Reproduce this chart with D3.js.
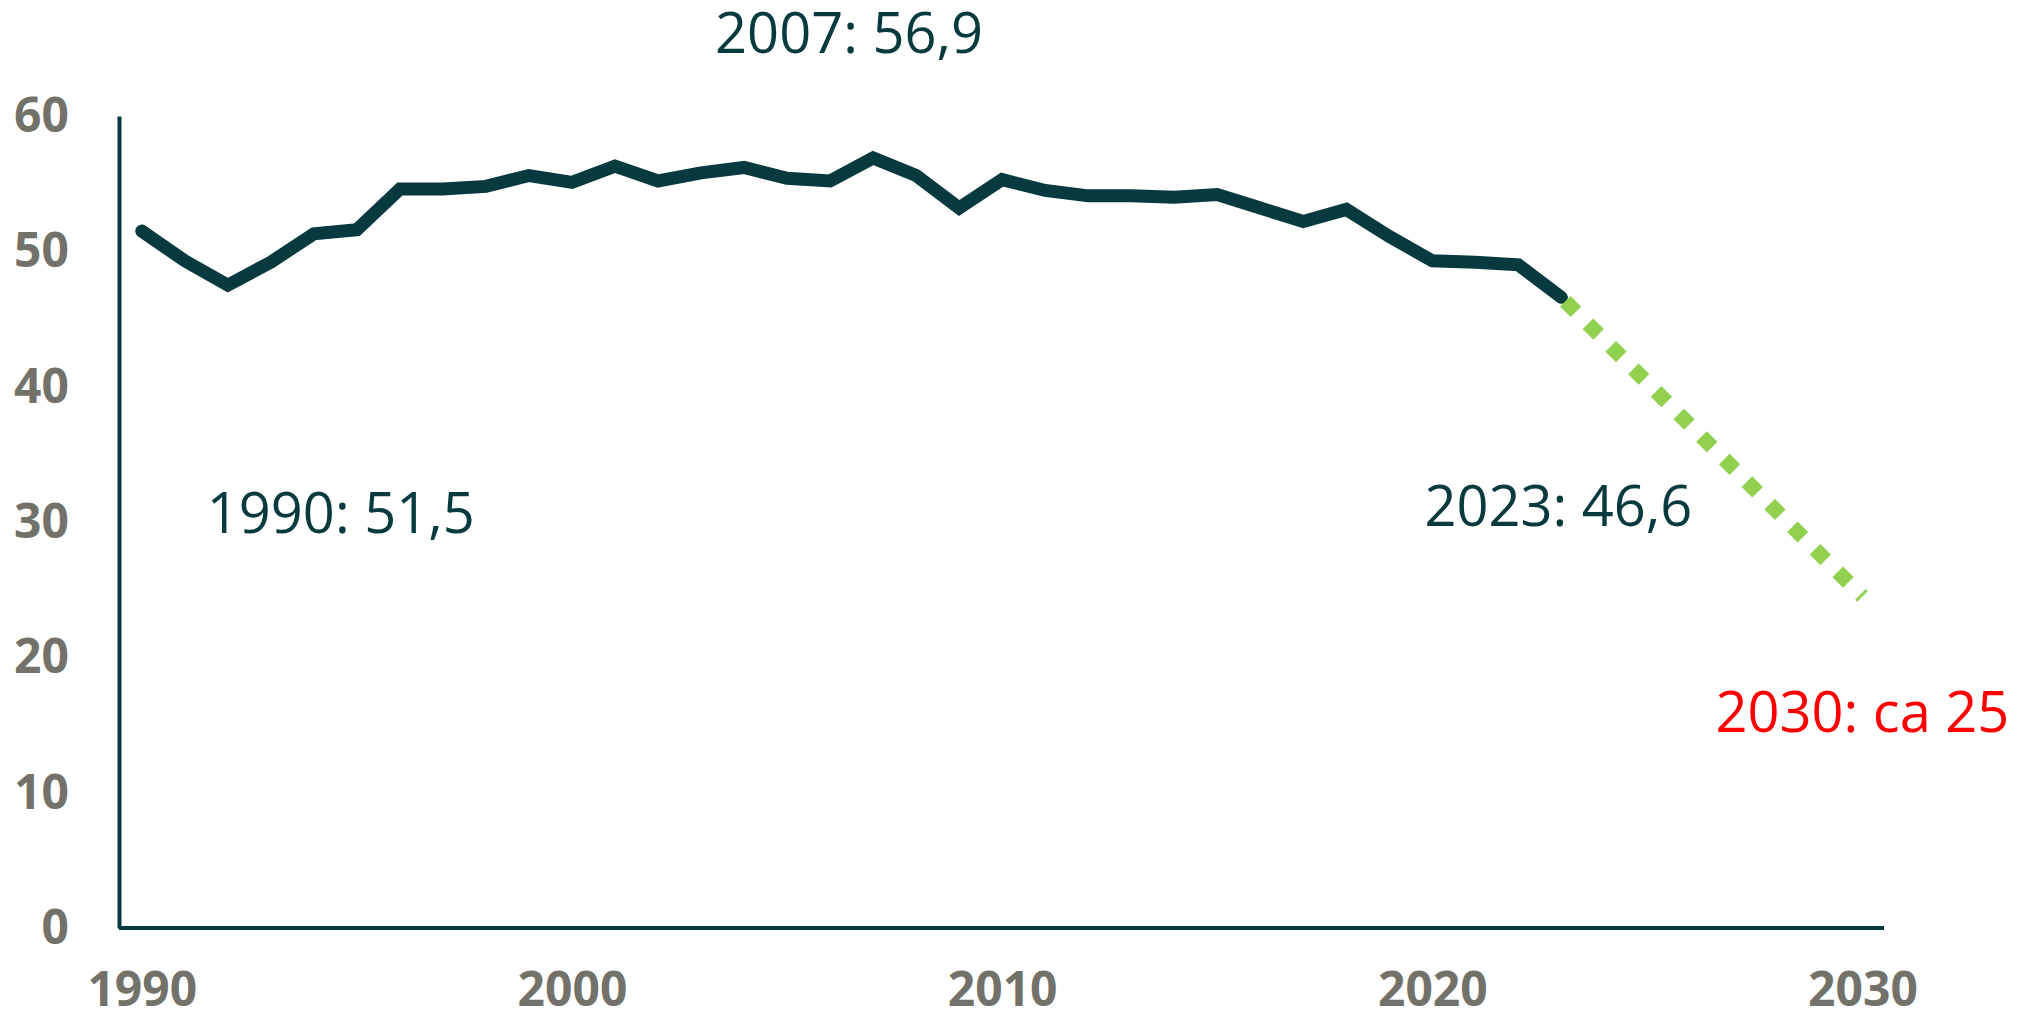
<!DOCTYPE html>
<html>
<head>
<meta charset="utf-8">
<script src="https://cdn.jsdelivr.net/npm/d3@7"></script>
<style>
  html, body { margin: 0; padding: 0; background: #fff; }
  svg { display: block; }
</style>
</head>
<body>
<div id="chart"></div>
<script>
// === Data ===
const years = [1990, 1991, 1992, 1993, 1994, 1995, 1996, 1997, 1998, 1999,
               2000, 2001, 2002, 2003, 2004, 2005, 2006, 2007, 2008, 2009,
               2010, 2011, 2012, 2013, 2014, 2015, 2016, 2017, 2018, 2019,
               2020, 2021, 2022, 2023];
const values = [51.5, 49.3, 47.5, 49.2, 51.3, 51.6, 54.6, 54.6, 54.8, 55.6,
                55.1, 56.3, 55.2, 55.8, 56.2, 55.4, 55.2, 56.9, 55.6, 53.2,
                55.3, 54.5, 54.1, 54.1, 54.0, 54.2, 53.2, 52.2, 53.1, 51.1,
                49.3, 49.2, 49.0, 46.6];
const projYears = [2023, 2030];
const projValues = [46.6, 24.5];
const xTicks = [1990, 2000, 2010, 2020, 2030];
const yTicks = [0, 10, 20, 30, 40, 50, 60];
const notes = [
  { year: 2007, value: 56.9, text: "2007: 56,9", key: "peak" },
  { year: 1990, value: 51.5, text: "1990: 51,5", key: "start" },
  { year: 2023, value: 46.6, text: "2023: 46,6", key: "last" },
  { year: 2030, value: 24.5, text: "2030: ca 25", key: "goal" }
];

// === Layout / style ===
const W = 2021, H = 1021;
const dark = "#073a3f", grey = "#73726a", green = "#92d050";
const noteStyle = {
  peak:  { dx: -158, dy: -105, fill: dark },
  start: { dx: 65,   dy: 302,  fill: dark },
  last:  { dx: -137, dy: 229,  fill: dark },
  goal:  { dx: -147, dy: 136,  fill: "#ff0000" }
};

const svg = d3.select("#chart").append("svg")
  .attr("width", W).attr("height", H);

const x = d3.scaleLinear().domain([1990, 2030]).range([141.8, 1862.5]);
const y = d3.scaleLinear().domain([0, 60]).range([928, 116]);
const axisX = 119;

// Y axis
const gy = svg.append("g")
  .attr("transform", `translate(${axisX},0)`)
  .call(d3.axisLeft(y).tickValues(yTicks).tickSize(0).tickSizeOuter(0).tickPadding(50));
gy.select(".domain").attr("stroke", dark).attr("stroke-width", 4);
gy.selectAll("text")
  .attr("fill", grey)
  .attr("font-family", "'Open Sans', sans-serif")
  .attr("font-weight", "bold")
  .attr("font-size", 48);

// X axis
const gx = svg.append("g")
  .attr("transform", `translate(0,${y(0)})`)
  .call(d3.axisBottom(x).tickValues(xTicks).tickSize(0).tickPadding(44).tickFormat(d3.format("d")));
gx.select(".domain").remove();
gx.selectAll("text")
  .attr("fill", grey)
  .attr("font-family", "'Open Sans', sans-serif")
  .attr("font-weight", "bold")
  .attr("font-size", 48);
gx.append("line")
  .attr("x1", axisX).attr("x2", x(2030) + 21.5)
  .attr("y1", 0).attr("y2", 0)
  .attr("stroke", dark).attr("stroke-width", 4);

// Main line
const line = d3.line()
  .x((d, i) => x(years[i]))
  .y(d => y(d));

svg.append("path")
  .datum(values)
  .attr("fill", "none")
  .attr("stroke", dark)
  .attr("stroke-width", 13)
  .attr("stroke-linecap", "round")
  .attr("stroke-linejoin", "miter")
  .attr("d", line);

// Projection
const projLine = d3.line()
  .x((d, i) => x(projYears[i]))
  .y(d => y(d));

svg.append("path")
  .datum(projValues)
  .attr("fill", "none")
  .attr("stroke", green)
  .attr("stroke-width", 15)
  .attr("stroke-dasharray", "15 17")
  .attr("stroke-dashoffset", 26.5)
  .attr("d", projLine);

// Annotations
svg.selectAll(".note")
  .data(notes)
  .join("text")
  .attr("class", "note")
  .attr("x", d => x(d.year) + noteStyle[d.key].dx)
  .attr("y", d => y(d.value) + noteStyle[d.key].dy)
  .attr("fill", d => noteStyle[d.key].fill)
  .attr("font-family", "'Open Sans', sans-serif")
  .attr("font-size", 56)
  .text(d => d.text);
</script>
</body>
</html>
